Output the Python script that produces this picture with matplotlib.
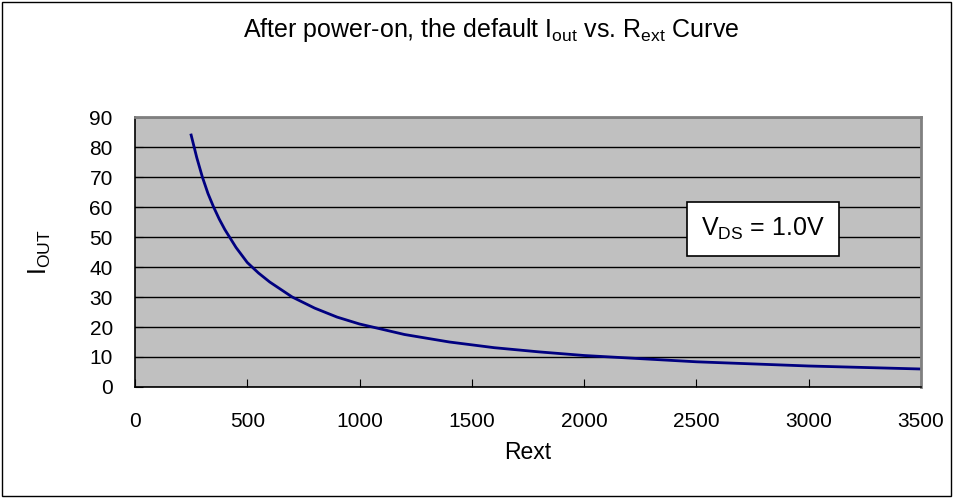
import matplotlib
matplotlib.use('Agg')
import matplotlib.pyplot as plt
from matplotlib.patches import Rectangle

plt.rcParams['font.family'] = 'Liberation Sans'
plt.rcParams['mathtext.fontset'] = 'custom'
plt.rcParams['mathtext.rm'] = 'Liberation Sans'
plt.rcParams['mathtext.it'] = 'Liberation Sans'

# Rext (ohm) vs Iout (mA)
rext = [250, 275, 300, 325, 350, 375, 400, 450, 500, 550, 600, 700, 800, 900, 1000,
        1200, 1400, 1600, 1800, 2000, 2500, 3000, 3500]
iout = [84, 76.5, 70, 64.5, 60, 56, 52.5, 46.5, 41.5, 38, 35, 30, 26.3, 23.3, 21,
        17.5, 15, 13.1, 11.7, 10.5, 8.4, 7, 6]
xticks = [0, 500, 1000, 1500, 2000, 2500, 3000, 3500]
yticks = [0, 10, 20, 30, 40, 50, 60, 70, 80, 90]

fig = plt.figure(figsize=(9.54, 4.98), dpi=100)
fig.patches.append(Rectangle((0.002, 0.004), 0.995, 0.992, transform=fig.transFigure,
                             fill=False, edgecolor='black', linewidth=1))

ax = fig.add_axes([0.1415, 0.2229, 0.8239, 0.5421])
ax.set_facecolor('#C0C0C0')
ax.plot(rext, iout, color='#000080', linewidth=2)

ax.set_xlim(0, 3500)
ax.set_ylim(0, 90)
ax.set_xticks(xticks)
ax.set_yticks(yticks)
ax.yaxis.grid(True, color='black', linewidth=1)
ax.set_axisbelow(True)
ax.tick_params(direction='in', length=6, labelsize=15)
ax.tick_params(axis='x', pad=18)
ax.tick_params(axis='y', pad=16)

for s in ['top', 'right']:
    ax.spines[s].set_color('#808080')
    ax.spines[s].set_linewidth(2)
for s in ['left', 'bottom']:
    ax.spines[s].set_color('black')
    ax.spines[s].set_linewidth(1.2)

ax.set_xlabel('Rext', fontsize=16.5)
ax.set_ylabel(r'I$_{\mathrm{OUT}}$', fontsize=18)
ax.xaxis.label.set_va('center')
ax.yaxis.label.set_va('center')
ax.xaxis.set_label_coords(0.5, -0.244)
ax.yaxis.set_label_coords(-0.121, 0.5)

fig.text(0.515, 0.94, r'After power-on, the default I$_{\mathrm{out}}$ vs. R$_{\mathrm{ext}}$ Curve',
         ha='center', va='center', fontsize=18)

ax.text(2796, 52.7, r'V$_{\mathrm{DS}}$ = 1.0V', ha='center', va='center', fontsize=18,
        bbox=dict(boxstyle='square,pad=0.55', facecolor='white', edgecolor='black', linewidth=1.2))

fig.savefig('out.png', dpi=100)
